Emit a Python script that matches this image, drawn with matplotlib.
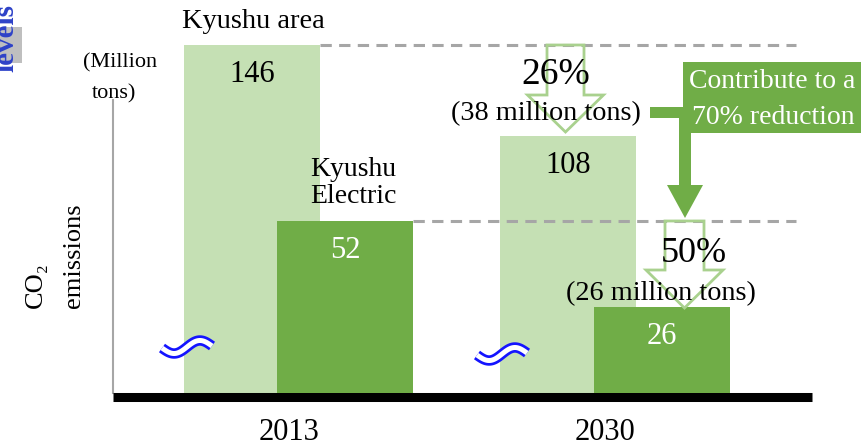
import numpy as np
import matplotlib.pyplot as plt
from matplotlib.patches import Polygon, Rectangle

plt.rcParams['font.family'] = ['Liberation Serif', 'DejaVu Serif']

# data (million tons of CO2)
years = ['2013', '2030']
area = [146, 108]        # Kyushu area
electric = [52, 26]      # Kyushu Electric
cut_pct = ['26%', '50%']
cut_tons = ['(38 million tons)', '(26 million tons)']

light = '#c5e0b4'
dark = '#70ad47'
arrow_c = '#a9d18e'
dash_c = '#a6a6a6'

W, H = 866, 447
fig = plt.figure(figsize=(W / 100, H / 100), dpi=100)
ax = fig.add_axes([113 / W, 54 / H, 699 / W, 348 / H])
ax2 = ax.twinx()   # the electric bars are drawn on their own (broken) scale

x = np.arange(len(years))
w = 0.43
off = 0.148

ax.bar(x - off, area, w, color=light, zorder=1)
ax2.bar(x + off, electric, w, color=dark, zorder=1)
ax.set_xlim(-0.587, 1.623)
ax.set_ylim(0, 146)
ax2.set_ylim(0, 105)

for xi, v in zip(x, area):
    ax.annotate(str(v), (xi - off, v), xytext=(0, -21.5), textcoords='offset points',
                ha='center', va='center', fontsize=22, color='black')
for xi, v in zip(x, electric):
    ax2.annotate(str(v), (xi + off, v), xytext=(0, -21.5), textcoords='offset points',
                 ha='center', va='center', fontsize=22, color='white')

# dashed reference lines at the 2013 levels
ax.plot([x[0] - off + w / 2, 1.572], [area[0]] * 2, color=dash_c, lw=2.2,
        dashes=(3.7, 2.4), clip_on=False, zorder=3)
ax2.plot([x[0] + off + w / 2, 1.572], [electric[0]] * 2, color=dash_c, lw=2.2,
         dashes=(3.7, 2.4), clip_on=False, zorder=3)

for s in ['top', 'right']:
    ax.spines[s].set_visible(False)
for s in ax2.spines.values():
    s.set_visible(False)
ax.spines['left'].set_color(dash_c)
ax.spines['left'].set_linewidth(1.5)
ax.spines['left'].set_bounds(0, 123)
ax.spines['bottom'].set_linewidth(6.5)
ax.spines['bottom'].set_capstyle('butt')
ax.spines['bottom'].set_position(('outward', 3.2))
ax.set_yticks([])
ax2.set_yticks([])
ax.set_xticks(x - 0.03, years)
ax.tick_params(axis='x', length=0, pad=15, labelsize=22)

# overlay in pixel coordinates for the annotations
ov = fig.add_axes([0, 0, 1, 1], zorder=5)
ov.set_xlim(0, W)
ov.set_ylim(H, 0)
ov.axis('off')


def hollow_arrow(cx, top, sh, tip, hs, hh):
    pts = [(cx - hs, top), (cx + hs, top), (cx + hs, sh), (cx + hh, sh),
           (cx, tip), (cx - hh, sh), (cx - hs, sh)]
    ov.add_patch(Polygon(pts, closed=True, fill=False, edgecolor=arrow_c, lw=2, zorder=1))


hollow_arrow(565.5, 45, 95, 132, 18.5, 38)
hollow_arrow(684.5, 221, 270, 308, 19.5, 38.5)

ov.text(556, 75, cut_pct[0], fontsize=27, ha='center', va='center', zorder=3)
ov.text(546, 114, cut_tons[0], fontsize=20.3, ha='center', va='center', zorder=3)
ov.text(694, 254, cut_pct[1], fontsize=26, ha='center', va='center', zorder=3)
ov.text(661, 294, cut_tons[1], fontsize=20.3, ha='center', va='center', zorder=3)

# dark green callout with elbow arrow
ov.add_patch(Rectangle((650, 107), 36, 11, color=dark, lw=0))
ov.add_patch(Rectangle((679, 107), 12, 78, color=dark, lw=0))
ov.add_patch(Polygon([(667, 185), (703, 185), (685, 218)], color=dark, lw=0))
ov.add_patch(Rectangle((683, 62), 178, 71, color=dark, lw=0))
ov.text(772, 82, 'Contribute to a', color='white', fontsize=20, ha='center', va='center')
ov.text(773, 117, '70% reduction', color='white', fontsize=20, ha='center', va='center')

# series labels
ov.text(182, 22, 'Kyushu area', fontsize=20.5, ha='left', va='center')
ov.text(310, 183, 'Kyushu\nElectric', fontsize=20, ha='left', va='center', linespacing=1.15)

# unit and axis title
ov.text(83, 63, '(Million', fontsize=16, ha='left', va='center')
ov.text(92, 94, 'tons)', fontsize=16, ha='left', va='center')
ov.text(36, 308, 'CO₂', fontsize=19, rotation=90, ha='center', va='bottom')
ov.text(74, 308, 'emissions', fontsize=19, rotation=90, ha='center', va='bottom')

# cropped "levels" tag in the corner
ov.add_patch(Rectangle((0, 27), 22, 36, color='#bfbfbf', lw=0))
ov.text(13, 72, 'levels', fontsize=21, fontweight='bold', color='#2e42c8', rotation=90,
        rotation_mode='anchor', ha='left', va='baseline')


# axis break marks
def squiggle(x0, yc):
    t = np.linspace(0, 1, 80)
    xs = x0 + 50 * t
    ys = yc + 6 * np.sin(2 * np.pi * t) - 2 * t
    ov.plot(xs, ys, color='#1414ff', lw=7.5, solid_capstyle='butt', zorder=4)
    ov.plot(xs, ys, color='white', lw=3.6, solid_capstyle='butt', zorder=4)


squiggle(162, 348)
squiggle(477, 355)

fig.savefig('out.png', dpi=100)
